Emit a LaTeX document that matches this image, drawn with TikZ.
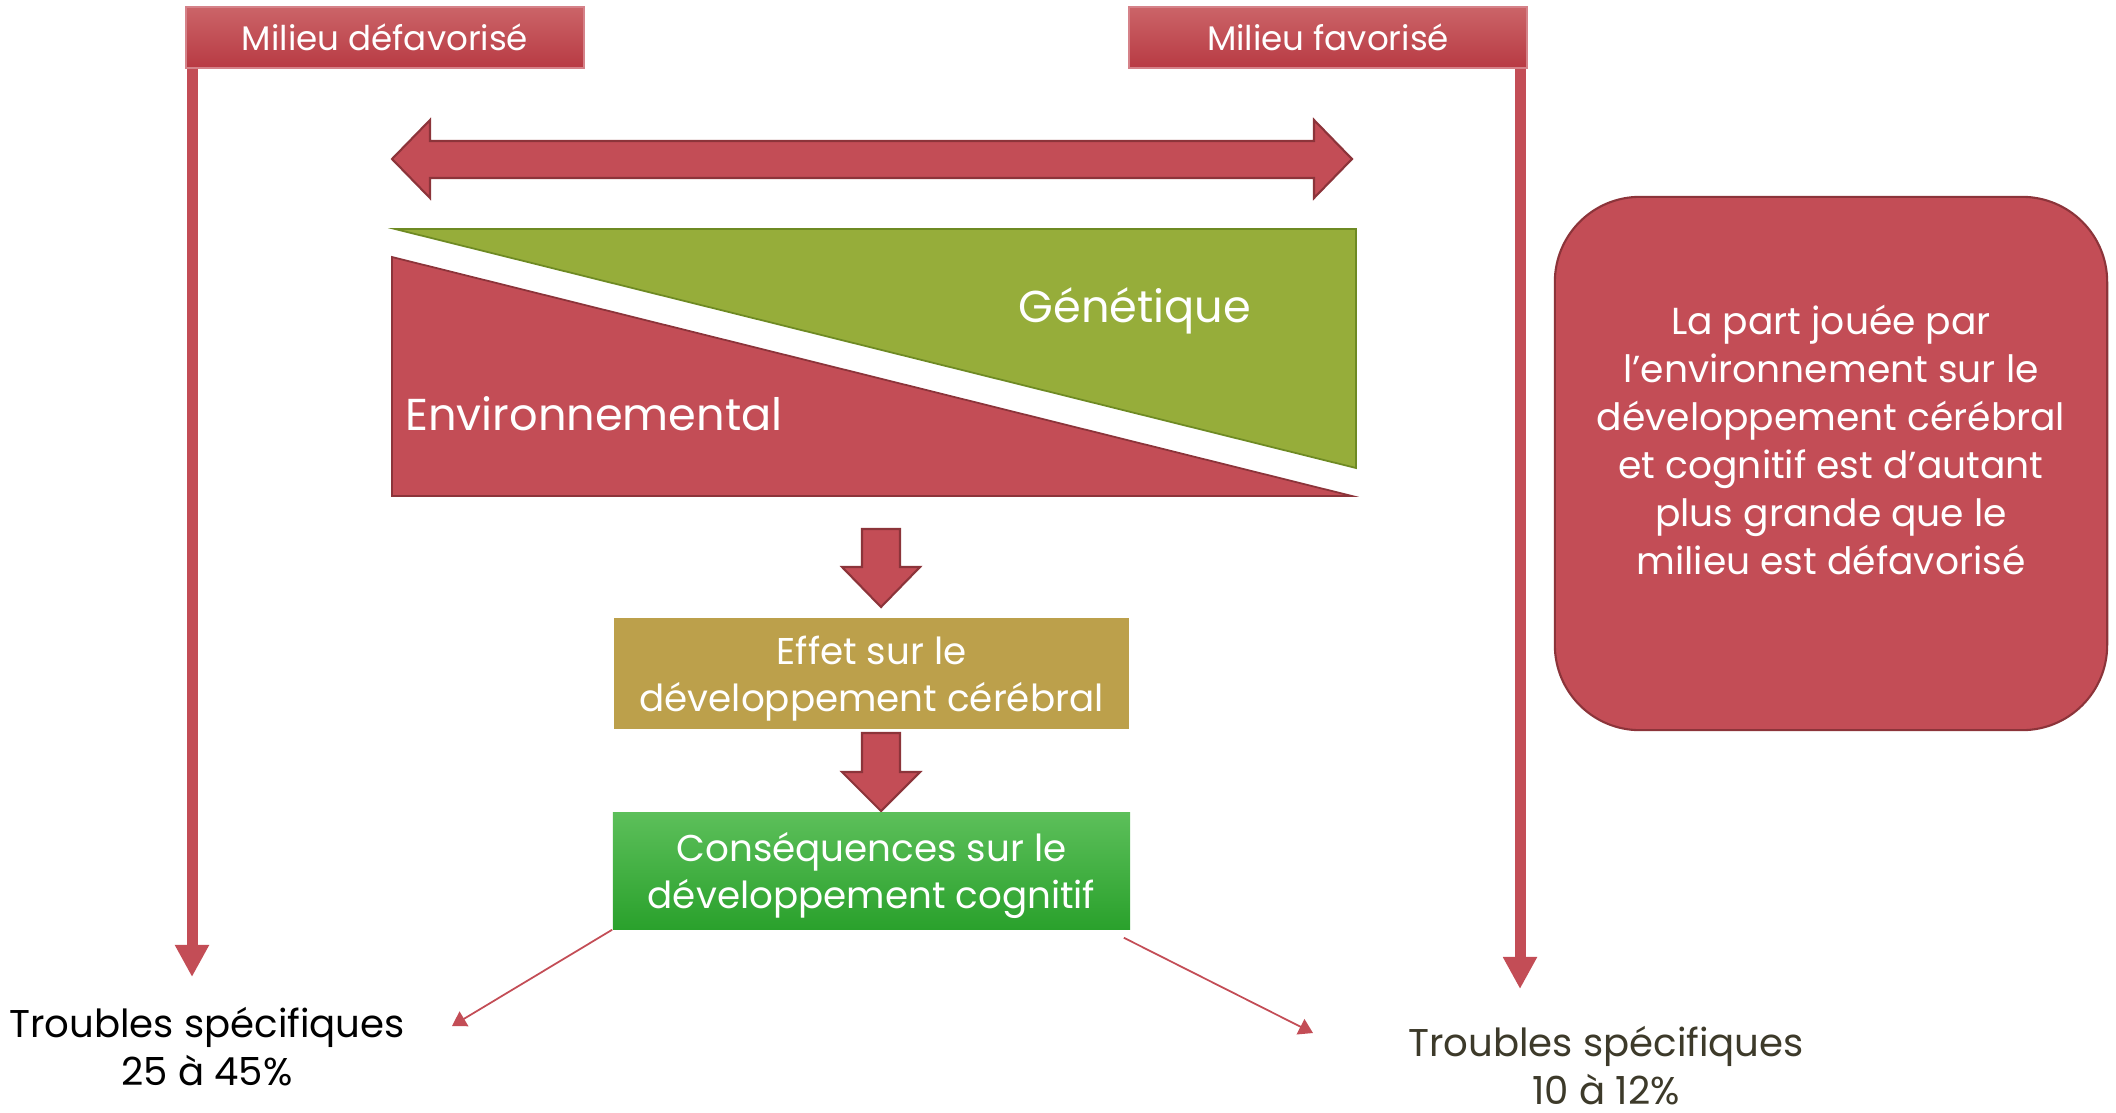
\documentclass[tikz,border=0pt]{standalone}
\usepackage{fontspec}
\setmainfont{Poppins}
\usetikzlibrary{arrows.meta}

\definecolor{rouge}{RGB}{195,77,86}
\definecolor{rougefonce}{RGB}{140,52,58}
\definecolor{rougeclair}{RGB}{203,100,104}
\definecolor{rougebas}{RGB}{184,58,67}
\definecolor{olive}{RGB}{150,173,58}
\definecolor{olivefonce}{RGB}{110,138,35}
\definecolor{ocre}{RGB}{188,160,75}
\definecolor{vertclair}{RGB}{92,191,90}
\definecolor{vertfonce}{RGB}{42,161,44}
\definecolor{brun}{RGB}{61,58,42}

\tikzset{
  milieu/.style={minimum width=3.98cm, minimum height=0.61cm, inner sep=0pt,
    top color=rougeclair, bottom color=rougebas, draw=rouge!70!white, line width=0.4pt,
    text=white, font=\fontsize{9.7}{11}\selectfont},
  boite/.style={minimum width=5.15cm, inner sep=0pt},
  boitetxt/.style={text=white, align=center, inner sep=0pt, yshift=-0.05cm,
    font=\fontsize{10.6}{13.4}\selectfont},
  partlbl/.style={text=white, inner sep=0pt, font=\fontsize{12.7}{15}\selectfont},
  fleche/.style={fill=rouge, draw=rougefonce, line width=0.6pt},
  tige/.style={draw=rouge, line width=0.11cm, -{Triangle[length=0.32cm, width=0.32cm]}},
  fine/.style={draw=rouge, line width=0.5pt, -{Triangle[length=0.14cm, width=0.17cm]}},
  texte/.style={align=center, inner sep=0pt, font=\fontsize{11}{13.6}\selectfont}
}

\begin{document}
\begin{tikzpicture}[x=0.01cm, y=-0.01cm]
\useasboundingbox (0,0) rectangle (2116,1112);

% milieux
\node[milieu] (defav) at (385,37.5) {Milieu défavorisé};
\node[milieu] (fav) at (1328,37.5) {Milieu favorisé};
\coordinate (basg) at (192,977);
\coordinate (basd) at (1520,989);
\draw[tige] (defav.south west -| basg) -- (basg);
\draw[tige] (fav.south east -| basd) -- (basd);

% double fleche
\draw[fleche] (392,159) -- (430,120) -- (430,141) -- (1314,141) -- (1314,120) -- (1352,159)
  -- (1314,198) -- (1314,178) -- (430,178) -- (430,198) -- cycle;

% genetique / environnemental
\draw[fill=olive, draw=olivefonce, line width=0.5pt] (395,229) -- (1356,229) -- (1356,468) -- cycle;
\draw[fill=rouge, draw=rougefonce, line width=0.5pt] (392,257) -- (1352,496) -- (392,496) -- cycle;
\node[partlbl] (gen) at (1135,311) {Génétique};
\node[partlbl] (env) at (594,414) {Environnemental};

% effets
\draw[fleche] (862,529) -- (900,529) -- (900,567) -- (920,567) -- (881,607) -- (842,567) -- (862,567) -- cycle;
\node[boite, fill=ocre, minimum height=1.11cm,
  label={[boitetxt]center:{Effet sur le\\développement cérébral}}] (effet) at (871.5,673.5) {};
\draw[fleche] (862,733) -- (900,733) -- (900,772) -- (920,772) -- (881,811) -- (842,772) -- (862,772) -- cycle;
\node[boite, top color=vertclair, bottom color=vertfonce, minimum width=5.17cm, minimum height=1.16cm,
  label={[boitetxt, yshift=0.01cm]center:{Conséquences sur le\\développement cognitif}}] (cons) at (871.5,871) {};

% troubles
\coordinate (fing) at (452,1026);
\coordinate (find) at (1313,1033);
\draw[fine] (cons.south west) -- (fing);
\draw[fine] ([xshift=-0.07cm, yshift=-0.08cm]cons.south east) -- (find);
\node[texte, anchor=base] (tg) at (207,1085) {Troubles spécifiques\\25 à 45\%};
\node[texte, anchor=base, text=brun] (td) at (1606,1104) {Troubles spécifiques\\10 à 12\%};

% encadre
\node[fill=rouge, draw=rougefonce, line width=0.6pt, rounded corners=0.85cm,
  minimum width=5.52cm, minimum height=5.33cm] (part) at (1831,463.5) {};
\node[texte, text=white, font=\fontsize{10.7}{13.7}\selectfont] (parttxt) at (1831,440)
  {La part jouée par\\l’environnement sur le\\développement cérébral\\et cognitif est d’autant\\plus grande que le\\milieu est défavorisé};
\end{tikzpicture}
\end{document}
